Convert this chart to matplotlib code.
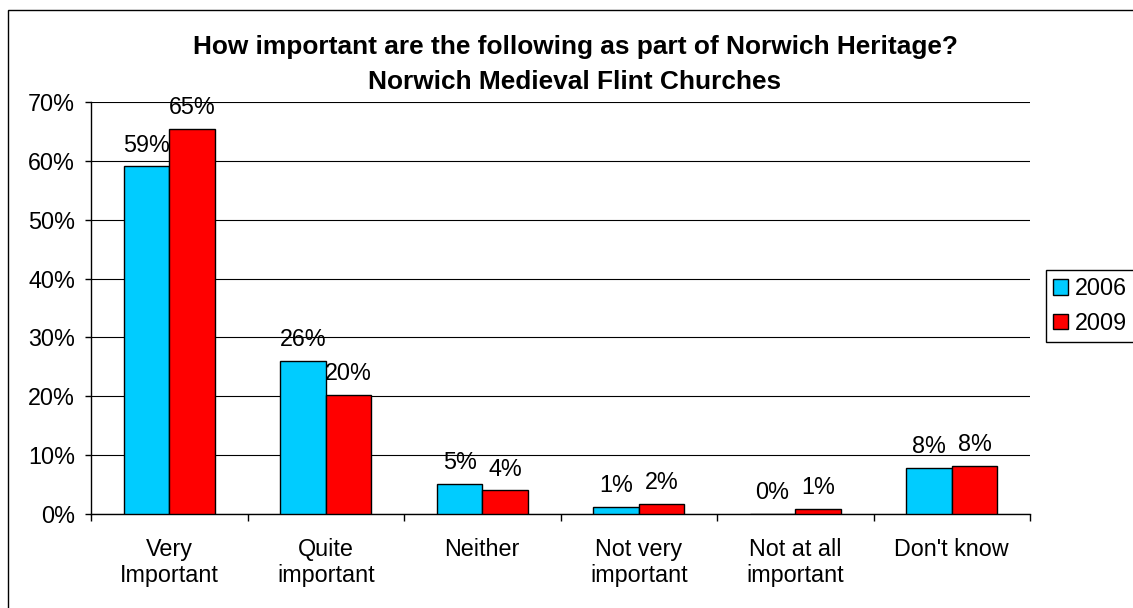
import matplotlib
matplotlib.use("Agg")
import matplotlib.pyplot as plt
import numpy as np
from matplotlib.patches import Rectangle, Patch

plt.rcParams['font.family'] = ['Liberation Sans', 'DejaVu Sans']

# survey answers, percent of respondents
categories = ["Very\nImportant", "Quite\nimportant", "Neither",
              "Not very\nimportant", "Not at all\nimportant", "Don't know"]
years = ["2006", "2009"]
share_2006 = [59.1, 26.0, 5.1, 1.2, 0.0, 7.9]
share_2009 = [65.4, 20.3, 4.0, 1.7, 0.9, 8.2]
title_lines = ["How important are the following as part of Norwich Heritage?",
               "Norwich Medieval Flint Churches"]

colors = ["#00CCFF", "#FF0000"]
fs = 16.8

W, H = 1133, 608
fig = plt.figure(figsize=(W / 100, H / 100), dpi=100)
ax = fig.add_axes([91 / W, 1 - 514 / H, (1030 - 91) / W, (514 - 102) / H])

# outer chart frame (only left and top edges fall inside the image)
fig.patches.append(Rectangle((8 / W, -0.1), 1.2, 1.1 - 10 / H, transform=fig.transFigure,
                             fill=False, edgecolor='black', linewidth=1.0))

x = np.arange(len(categories))
bw = 0.29
series = [share_2006, share_2009]
for i, (vals, col) in enumerate(zip(series, colors)):
    offs = (i - 0.5) * bw
    ax.bar(x + offs, vals, bw, color=col, edgecolor='black', linewidth=1.0, zorder=3)
    for xi, v in zip(x, vals):
        ax.annotate(f"{v:.0f}%", (xi + offs, v), xytext=(0, 10.5), textcoords='offset points',
                    ha='center', va='baseline', fontsize=fs, zorder=4)

ax.set_xlim(-0.5, len(categories) - 0.5)
ax.set_ylim(0, 70)
ax.set_yticks(np.arange(0, 71, 10))
ax.set_yticklabels([f"{t}%" for t in range(0, 71, 10)])
ax.yaxis.grid(True, color='black', linewidth=0.8, zorder=0)
ax.set_axisbelow(True)

ax.set_xticks(x)
ax.set_xticklabels(categories, linespacing=1.2)
ax.set_xticks(np.arange(-0.5, len(categories)), minor=True)
ax.tick_params(axis='x', which='major', length=0, pad=17, labelsize=fs)
ax.tick_params(axis='x', which='minor', length=5, width=1.0, direction='out')
ax.tick_params(axis='y', length=4.5, width=1.0, pad=7, labelsize=fs)

for s in ['top', 'right']:
    ax.spines[s].set_visible(False)
for s in ['left', 'bottom']:
    ax.spines[s].set_linewidth(1.0)

for k, line in enumerate(title_lines):
    fig.text(575 / W, 1 - (54 + 35 * k) / H, line, ha='center', va='baseline',
             fontsize=18.9, fontweight='bold')

handles = [Patch(facecolor=c, edgecolor='black', linewidth=1.0) for c in colors]
leg = fig.legend(handles, years, loc='upper left', bbox_to_anchor=(1046 / W, 1 - 270 / H),
                 frameon=True, fancybox=False, framealpha=1, edgecolor='black',
                 fontsize=fs, handlelength=0.65, handleheight=0.65, handletextpad=0.3,
                 borderpad=0.3, labelspacing=0.5, borderaxespad=0)
leg.get_frame().set_linewidth(1.0)

fig.savefig("out.png", dpi=100)
